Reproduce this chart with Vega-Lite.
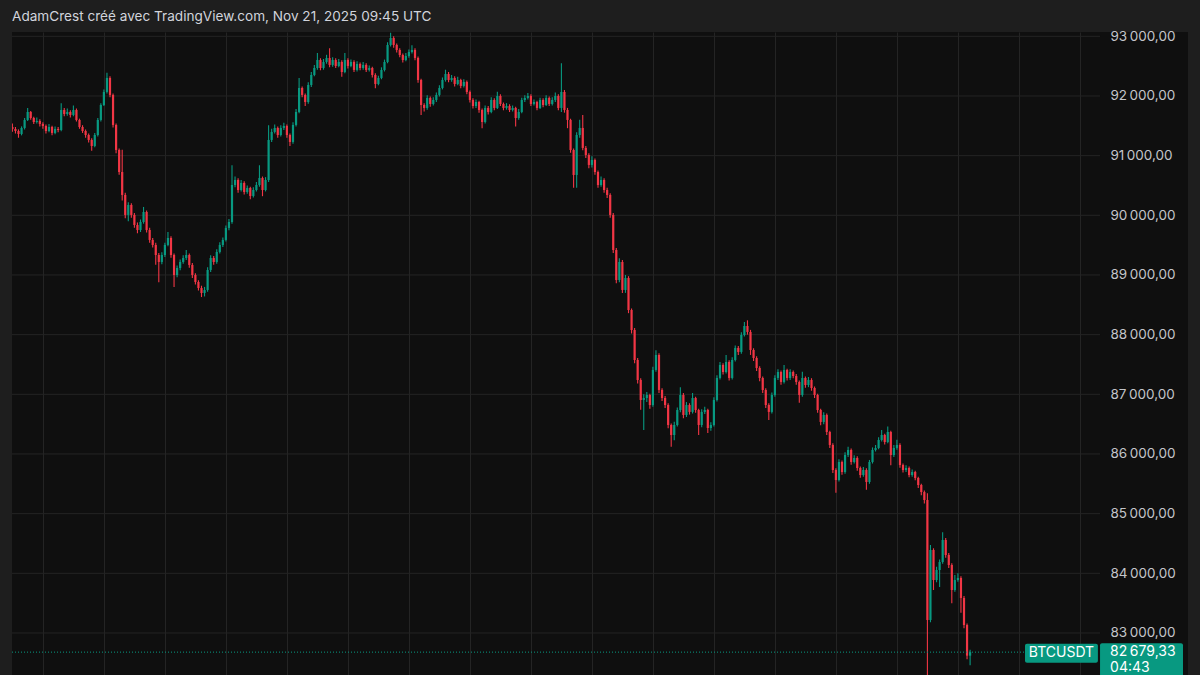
{
"$schema": "https://vega.github.io/schema/vega-lite/v6.json",
"width": 1176, "height": 643,
"autosize": {"type": "none"},
"padding": {"left": 12, "top": 32, "right": 12, "bottom": 0},
"background": "#1e1e1e",
"title": {"text": "AdamCrest créé avec TradingView.com, Nov 21, 2025 09:45 UTC", "anchor": "start", "frame": "group", "offset": 6, "font": "Inter", "fontSize": 13.6, "fontWeight": "normal", "color": "#d1d4dc"},
"config": {
  "view": {"fill": "#0f0f0f", "stroke": null},
  "scale": {"continuousPadding": 0},
  "locale": {"number": {"decimal": ",", "thousands": "\u202f", "grouping": [3], "currency": ["", ""]}},
  "axisX": {"grid": true, "gridColor": "#242424", "gridWidth": 1, "labels": false, "ticks": false, "domain": false, "title": null},
  "axisY": {"title": null, "grid": false, "ticks": false, "domain": false}
},
"datasets": {
"levels": [{"level":83000},{"level":84000},{"level":85000},{"level":86000},{"level":87000},{"level":88000},{"level":89000},{"level":90000},{"level":91000},{"level":92000},{"level":93000}],
"last": [{"sym":"BTCUSDT","price":82679.33,"timer":"04:43"}],
"candles": [
{"i":0,"o":91480,"h":91540,"l":91400,"c":91447},
{"i":1,"o":91447,"h":91480,"l":91370,"c":91413},
{"i":2,"o":91413,"h":91440,"l":91300,"c":91363},
{"i":3,"o":91363,"h":91490,"l":91340,"c":91464},
{"i":4,"o":91464,"h":91630,"l":91440,"c":91598},
{"i":5,"o":91598,"h":91800,"l":91580,"c":91732},
{"i":6,"o":91732,"h":91750,"l":91600,"c":91631},
{"i":7,"o":91631,"h":91650,"l":91530,"c":91564},
{"i":8,"o":91564,"h":91640,"l":91540,"c":91581},
{"i":9,"o":91581,"h":91610,"l":91490,"c":91531},
{"i":10,"o":91531,"h":91560,"l":91450,"c":91497},
{"i":11,"o":91497,"h":91520,"l":91370,"c":91413},
{"i":12,"o":91413,"h":91530,"l":91390,"c":91480},
{"i":13,"o":91480,"h":91500,"l":91340,"c":91380},
{"i":14,"o":91380,"h":91490,"l":91360,"c":91447},
{"i":15,"o":91447,"h":91480,"l":91390,"c":91430},
{"i":16,"o":91430,"h":91880,"l":91410,"c":91765},
{"i":17,"o":91765,"h":91800,"l":91660,"c":91698},
{"i":18,"o":91698,"h":91790,"l":91670,"c":91732},
{"i":19,"o":91732,"h":91760,"l":91640,"c":91682},
{"i":20,"o":91682,"h":91840,"l":91660,"c":91765},
{"i":21,"o":91765,"h":91790,"l":91570,"c":91598},
{"i":22,"o":91598,"h":91620,"l":91450,"c":91480},
{"i":23,"o":91480,"h":91510,"l":91380,"c":91413},
{"i":24,"o":91413,"h":91440,"l":91300,"c":91346},
{"i":25,"o":91346,"h":91370,"l":91220,"c":91263},
{"i":26,"o":91263,"h":91290,"l":91080,"c":91162},
{"i":27,"o":91162,"h":91380,"l":91140,"c":91346},
{"i":28,"o":91346,"h":91630,"l":91320,"c":91598},
{"i":29,"o":91598,"h":91880,"l":91570,"c":91849},
{"i":30,"o":91849,"h":92110,"l":91830,"c":92067},
{"i":31,"o":92067,"h":92390,"l":92040,"c":92302},
{"i":32,"o":92302,"h":92330,"l":91980,"c":92017},
{"i":33,"o":92017,"h":92040,"l":91470,"c":91514},
{"i":34,"o":91514,"h":91540,"l":91040,"c":91095},
{"i":35,"o":91095,"h":91120,"l":90680,"c":90726},
{"i":36,"o":90726,"h":91100,"l":90250,"c":90341},
{"i":37,"o":90341,"h":90380,"l":89950,"c":90006},
{"i":38,"o":90006,"h":90220,"l":89900,"c":90173},
{"i":39,"o":90173,"h":90200,"l":89960,"c":90006},
{"i":40,"o":90006,"h":90040,"l":89790,"c":89838},
{"i":41,"o":89838,"h":89880,"l":89700,"c":89754},
{"i":42,"o":89754,"h":89930,"l":89720,"c":89888},
{"i":43,"o":89888,"h":90140,"l":89860,"c":90056},
{"i":44,"o":90056,"h":90080,"l":89710,"c":89754},
{"i":45,"o":89754,"h":89790,"l":89540,"c":89587},
{"i":46,"o":89587,"h":89620,"l":89460,"c":89503},
{"i":47,"o":89503,"h":89540,"l":89170,"c":89335},
{"i":48,"o":89335,"h":89370,"l":88880,"c":89218},
{"i":49,"o":89218,"h":89380,"l":89180,"c":89335},
{"i":50,"o":89335,"h":89540,"l":89300,"c":89503},
{"i":51,"o":89503,"h":89720,"l":89480,"c":89620},
{"i":52,"o":89620,"h":89650,"l":89290,"c":89335},
{"i":53,"o":89335,"h":89360,"l":88800,"c":89000},
{"i":54,"o":89000,"h":89160,"l":88960,"c":89117},
{"i":55,"o":89117,"h":89260,"l":89080,"c":89218},
{"i":56,"o":89218,"h":89330,"l":89190,"c":89285},
{"i":57,"o":89285,"h":89420,"l":89250,"c":89335},
{"i":58,"o":89335,"h":89360,"l":89120,"c":89168},
{"i":59,"o":89168,"h":89200,"l":88950,"c":89000},
{"i":60,"o":89000,"h":89030,"l":88840,"c":88883},
{"i":61,"o":88883,"h":88910,"l":88740,"c":88782},
{"i":62,"o":88782,"h":88820,"l":88630,"c":88698},
{"i":63,"o":88698,"h":88800,"l":88640,"c":88749},
{"i":64,"o":88749,"h":89130,"l":88720,"c":89084},
{"i":65,"o":89084,"h":89330,"l":89050,"c":89285},
{"i":66,"o":89285,"h":89320,"l":89170,"c":89218},
{"i":67,"o":89218,"h":89430,"l":89190,"c":89386},
{"i":68,"o":89386,"h":89550,"l":89360,"c":89503},
{"i":69,"o":89503,"h":89630,"l":89470,"c":89587},
{"i":70,"o":89587,"h":89830,"l":89560,"c":89788},
{"i":71,"o":89788,"h":89940,"l":89750,"c":89888},
{"i":72,"o":89888,"h":90840,"l":89860,"c":90508},
{"i":73,"o":90508,"h":90650,"l":90470,"c":90592},
{"i":74,"o":90592,"h":90620,"l":90380,"c":90424},
{"i":75,"o":90424,"h":90590,"l":90400,"c":90542},
{"i":76,"o":90542,"h":90570,"l":90350,"c":90391},
{"i":77,"o":90391,"h":90500,"l":90360,"c":90458},
{"i":78,"o":90458,"h":90480,"l":90270,"c":90324},
{"i":79,"o":90324,"h":90470,"l":90300,"c":90424},
{"i":80,"o":90424,"h":90560,"l":90400,"c":90508},
{"i":81,"o":90508,"h":90840,"l":90480,"c":90626},
{"i":82,"o":90626,"h":90650,"l":90320,"c":90424},
{"i":83,"o":90424,"h":90640,"l":90400,"c":90592},
{"i":84,"o":90592,"h":91510,"l":90560,"c":91263},
{"i":85,"o":91263,"h":91450,"l":91230,"c":91397},
{"i":86,"o":91397,"h":91520,"l":91370,"c":91464},
{"i":87,"o":91464,"h":91490,"l":91300,"c":91346},
{"i":88,"o":91346,"h":91510,"l":91320,"c":91464},
{"i":89,"o":91464,"h":91550,"l":91430,"c":91497},
{"i":90,"o":91497,"h":91520,"l":91300,"c":91346},
{"i":91,"o":91346,"h":91370,"l":91160,"c":91229},
{"i":92,"o":91229,"h":91560,"l":91200,"c":91514},
{"i":93,"o":91514,"h":91780,"l":91490,"c":91732},
{"i":94,"o":91732,"h":92300,"l":91710,"c":92134},
{"i":95,"o":92134,"h":92160,"l":91980,"c":92017},
{"i":96,"o":92017,"h":92040,"l":91830,"c":91899},
{"i":97,"o":91899,"h":92230,"l":91870,"c":92184},
{"i":98,"o":92184,"h":92400,"l":92150,"c":92352},
{"i":99,"o":92352,"h":92520,"l":92330,"c":92469},
{"i":100,"o":92469,"h":92720,"l":92440,"c":92603},
{"i":101,"o":92603,"h":92630,"l":92430,"c":92469},
{"i":102,"o":92469,"h":92620,"l":92440,"c":92570},
{"i":103,"o":92570,"h":92690,"l":92540,"c":92637},
{"i":104,"o":92637,"h":92800,"l":92480,"c":92520},
{"i":105,"o":92520,"h":92650,"l":92490,"c":92603},
{"i":106,"o":92603,"h":92630,"l":92470,"c":92503},
{"i":107,"o":92503,"h":92620,"l":92480,"c":92570},
{"i":108,"o":92570,"h":92600,"l":92320,"c":92402},
{"i":109,"o":92402,"h":92720,"l":92380,"c":92603},
{"i":110,"o":92603,"h":92630,"l":92460,"c":92503},
{"i":111,"o":92503,"h":92610,"l":92480,"c":92570},
{"i":112,"o":92570,"h":92600,"l":92400,"c":92436},
{"i":113,"o":92436,"h":92580,"l":92410,"c":92536},
{"i":114,"o":92536,"h":92560,"l":92430,"c":92469},
{"i":115,"o":92469,"h":92570,"l":92440,"c":92520},
{"i":116,"o":92520,"h":92550,"l":92400,"c":92436},
{"i":117,"o":92436,"h":92510,"l":92410,"c":92469},
{"i":118,"o":92469,"h":92490,"l":92310,"c":92352},
{"i":119,"o":92352,"h":92380,"l":92130,"c":92201},
{"i":120,"o":92201,"h":92340,"l":92180,"c":92302},
{"i":121,"o":92302,"h":92480,"l":92280,"c":92436},
{"i":122,"o":92436,"h":92610,"l":92410,"c":92570},
{"i":123,"o":92570,"h":92900,"l":92550,"c":92855},
{"i":124,"o":92855,"h":93060,"l":92830,"c":92972},
{"i":125,"o":92972,"h":93000,"l":92810,"c":92855},
{"i":126,"o":92855,"h":92880,"l":92730,"c":92771},
{"i":127,"o":92771,"h":92800,"l":92650,"c":92687},
{"i":128,"o":92687,"h":92710,"l":92560,"c":92603},
{"i":129,"o":92603,"h":92720,"l":92580,"c":92670},
{"i":130,"o":92670,"h":92780,"l":92640,"c":92737},
{"i":131,"o":92737,"h":92850,"l":92710,"c":92771},
{"i":132,"o":92771,"h":92800,"l":92600,"c":92637},
{"i":133,"o":92637,"h":92660,"l":92220,"c":92268},
{"i":134,"o":92268,"h":92290,"l":91680,"c":91849},
{"i":135,"o":91849,"h":91880,"l":91740,"c":91799},
{"i":136,"o":91799,"h":92010,"l":91770,"c":91967},
{"i":137,"o":91967,"h":91990,"l":91820,"c":91866},
{"i":138,"o":91866,"h":91980,"l":91840,"c":91933},
{"i":139,"o":91933,"h":92060,"l":91900,"c":92017},
{"i":140,"o":92017,"h":92180,"l":91990,"c":92134},
{"i":141,"o":92134,"h":92310,"l":92110,"c":92268},
{"i":142,"o":92268,"h":92440,"l":92240,"c":92369},
{"i":143,"o":92369,"h":92400,"l":92230,"c":92268},
{"i":144,"o":92268,"h":92350,"l":92240,"c":92302},
{"i":145,"o":92302,"h":92330,"l":92160,"c":92201},
{"i":146,"o":92201,"h":92320,"l":92180,"c":92268},
{"i":147,"o":92268,"h":92290,"l":92130,"c":92168},
{"i":148,"o":92168,"h":92280,"l":92140,"c":92235},
{"i":149,"o":92235,"h":92260,"l":92030,"c":92067},
{"i":150,"o":92067,"h":92090,"l":91890,"c":91933},
{"i":151,"o":91933,"h":91960,"l":91790,"c":91832},
{"i":152,"o":91832,"h":91940,"l":91800,"c":91899},
{"i":153,"o":91899,"h":91920,"l":91720,"c":91765},
{"i":154,"o":91765,"h":91790,"l":91460,"c":91564},
{"i":155,"o":91564,"h":91840,"l":91540,"c":91799},
{"i":156,"o":91799,"h":91830,"l":91690,"c":91732},
{"i":157,"o":91732,"h":91980,"l":91710,"c":91933},
{"i":158,"o":91933,"h":91960,"l":91760,"c":91799},
{"i":159,"o":91799,"h":92070,"l":91780,"c":92000},
{"i":160,"o":92000,"h":92030,"l":91830,"c":91866},
{"i":161,"o":91866,"h":91890,"l":91760,"c":91799},
{"i":162,"o":91799,"h":91880,"l":91770,"c":91832},
{"i":163,"o":91832,"h":91860,"l":91730,"c":91765},
{"i":164,"o":91765,"h":91840,"l":91740,"c":91799},
{"i":165,"o":91799,"h":91820,"l":91490,"c":91631},
{"i":166,"o":91631,"h":91780,"l":91600,"c":91732},
{"i":167,"o":91732,"h":91970,"l":91710,"c":91933},
{"i":168,"o":91933,"h":92010,"l":91900,"c":91967},
{"i":169,"o":91967,"h":92050,"l":91940,"c":92000},
{"i":170,"o":92000,"h":92030,"l":91830,"c":91866},
{"i":171,"o":91866,"h":91940,"l":91840,"c":91899},
{"i":172,"o":91899,"h":91920,"l":91760,"c":91799},
{"i":173,"o":91799,"h":91970,"l":91780,"c":91933},
{"i":174,"o":91933,"h":91960,"l":91810,"c":91849},
{"i":175,"o":91849,"h":92010,"l":91830,"c":91967},
{"i":176,"o":91967,"h":91990,"l":91830,"c":91866},
{"i":177,"o":91866,"h":91980,"l":91840,"c":91933},
{"i":178,"o":91933,"h":92060,"l":91900,"c":92000},
{"i":179,"o":92000,"h":92030,"l":91760,"c":91799},
{"i":180,"o":91799,"h":92550,"l":91730,"c":92067},
{"i":181,"o":92067,"h":92100,"l":91720,"c":91765},
{"i":182,"o":91765,"h":91800,"l":91460,"c":91598},
{"i":183,"o":91598,"h":91620,"l":91050,"c":91095},
{"i":184,"o":91095,"h":91120,"l":90460,"c":90676},
{"i":185,"o":90676,"h":91390,"l":90460,"c":91346},
{"i":186,"o":91346,"h":91600,"l":91300,"c":91464},
{"i":187,"o":91464,"h":91680,"l":91090,"c":91129},
{"i":188,"o":91129,"h":91160,"l":90960,"c":91011},
{"i":189,"o":91011,"h":91040,"l":90790,"c":90844},
{"i":190,"o":90844,"h":90990,"l":90800,"c":90927},
{"i":191,"o":90927,"h":90950,"l":90680,"c":90726},
{"i":192,"o":90726,"h":90750,"l":90460,"c":90508},
{"i":193,"o":90508,"h":90650,"l":90480,"c":90592},
{"i":194,"o":90592,"h":90620,"l":90380,"c":90424},
{"i":195,"o":90424,"h":90460,"l":90290,"c":90341},
{"i":196,"o":90341,"h":90370,"l":89960,"c":90006},
{"i":197,"o":90006,"h":90040,"l":89370,"c":89419},
{"i":198,"o":89419,"h":89450,"l":88860,"c":88916},
{"i":199,"o":88916,"h":89280,"l":88880,"c":89218},
{"i":200,"o":89218,"h":89250,"l":88700,"c":88749},
{"i":201,"o":88749,"h":89000,"l":88700,"c":88950},
{"i":202,"o":88950,"h":88980,"l":88360,"c":88413},
{"i":203,"o":88413,"h":88440,"l":88020,"c":88078},
{"i":204,"o":88078,"h":88110,"l":87520,"c":87575},
{"i":205,"o":87575,"h":87610,"l":87180,"c":87240},
{"i":206,"o":87240,"h":87270,"l":86740,"c":86905},
{"i":207,"o":86905,"h":87000,"l":86400,"c":86938},
{"i":208,"o":86938,"h":87040,"l":86870,"c":86989},
{"i":209,"o":86989,"h":87010,"l":86760,"c":86821},
{"i":210,"o":86821,"h":87460,"l":86790,"c":87408},
{"i":211,"o":87408,"h":87740,"l":87380,"c":87659},
{"i":212,"o":87659,"h":87690,"l":87020,"c":87073},
{"i":213,"o":87073,"h":87100,"l":86890,"c":86938},
{"i":214,"o":86938,"h":86970,"l":86770,"c":86821},
{"i":215,"o":86821,"h":86850,"l":86430,"c":86486},
{"i":216,"o":86486,"h":86510,"l":86120,"c":86318},
{"i":217,"o":86318,"h":86540,"l":86230,"c":86486},
{"i":218,"o":86486,"h":86780,"l":86460,"c":86737},
{"i":219,"o":86737,"h":87120,"l":86700,"c":86989},
{"i":220,"o":86989,"h":87020,"l":86600,"c":86654},
{"i":221,"o":86654,"h":86870,"l":86620,"c":86821},
{"i":222,"o":86821,"h":86850,"l":86660,"c":86705},
{"i":223,"o":86705,"h":87020,"l":86680,"c":86938},
{"i":224,"o":86938,"h":86960,"l":86690,"c":86737},
{"i":225,"o":86737,"h":86760,"l":86320,"c":86486},
{"i":226,"o":86486,"h":86750,"l":86450,"c":86705},
{"i":227,"o":86705,"h":86790,"l":86670,"c":86737},
{"i":228,"o":86737,"h":86760,"l":86350,"c":86435},
{"i":229,"o":86435,"h":86530,"l":86390,"c":86486},
{"i":230,"o":86486,"h":86950,"l":86460,"c":86905},
{"i":231,"o":86905,"h":87320,"l":86880,"c":87274},
{"i":232,"o":87274,"h":87540,"l":87250,"c":87491},
{"i":233,"o":87491,"h":87520,"l":87330,"c":87374},
{"i":234,"o":87374,"h":87660,"l":87350,"c":87542},
{"i":235,"o":87542,"h":87570,"l":87230,"c":87274},
{"i":236,"o":87274,"h":87620,"l":87250,"c":87575},
{"i":237,"o":87575,"h":87820,"l":87550,"c":87777},
{"i":238,"o":87777,"h":87810,"l":87660,"c":87710},
{"i":239,"o":87710,"h":88040,"l":87680,"c":87994},
{"i":240,"o":87994,"h":88210,"l":87970,"c":88145},
{"i":241,"o":88145,"h":88240,"l":88000,"c":88045},
{"i":242,"o":88045,"h":88080,"l":87660,"c":87743},
{"i":243,"o":87743,"h":87770,"l":87560,"c":87609},
{"i":244,"o":87609,"h":87640,"l":87390,"c":87441},
{"i":245,"o":87441,"h":87470,"l":87220,"c":87274},
{"i":246,"o":87274,"h":87300,"l":87020,"c":87073},
{"i":247,"o":87073,"h":87100,"l":86770,"c":86821},
{"i":248,"o":86821,"h":86850,"l":86570,"c":86705},
{"i":249,"o":86705,"h":87030,"l":86680,"c":86989},
{"i":250,"o":86989,"h":87320,"l":86960,"c":87274},
{"i":251,"o":87274,"h":87420,"l":87240,"c":87374},
{"i":252,"o":87374,"h":87400,"l":87160,"c":87207},
{"i":253,"o":87207,"h":87490,"l":87180,"c":87408},
{"i":254,"o":87408,"h":87430,"l":87230,"c":87274},
{"i":255,"o":87274,"h":87420,"l":87240,"c":87374},
{"i":256,"o":87374,"h":87400,"l":87270,"c":87307},
{"i":257,"o":87307,"h":87340,"l":87160,"c":87207},
{"i":258,"o":87207,"h":87230,"l":86860,"c":86989},
{"i":259,"o":86989,"h":87380,"l":86960,"c":87274},
{"i":260,"o":87274,"h":87300,"l":87110,"c":87156},
{"i":261,"o":87156,"h":87290,"l":87120,"c":87240},
{"i":262,"o":87240,"h":87270,"l":87060,"c":87106},
{"i":263,"o":87106,"h":87130,"l":86940,"c":86989},
{"i":264,"o":86989,"h":87010,"l":86690,"c":86737},
{"i":265,"o":86737,"h":86760,"l":86480,"c":86537},
{"i":266,"o":86537,"h":86700,"l":86500,"c":86654},
{"i":267,"o":86654,"h":86680,"l":86320,"c":86369},
{"i":268,"o":86369,"h":86390,"l":86100,"c":86151},
{"i":269,"o":86151,"h":86180,"l":85680,"c":85732},
{"i":270,"o":85732,"h":85760,"l":85350,"c":85564},
{"i":271,"o":85564,"h":85910,"l":85540,"c":85866},
{"i":272,"o":85866,"h":85890,"l":85650,"c":85698},
{"i":273,"o":85698,"h":86030,"l":85670,"c":85983},
{"i":274,"o":85983,"h":86120,"l":85950,"c":86067},
{"i":275,"o":86067,"h":86090,"l":85820,"c":85866},
{"i":276,"o":85866,"h":85980,"l":85840,"c":85933},
{"i":277,"o":85933,"h":85960,"l":85720,"c":85765},
{"i":278,"o":85765,"h":85790,"l":85600,"c":85648},
{"i":279,"o":85648,"h":85780,"l":85620,"c":85732},
{"i":280,"o":85732,"h":85760,"l":85400,"c":85531},
{"i":281,"o":85531,"h":85900,"l":85500,"c":85866},
{"i":282,"o":85866,"h":86110,"l":85840,"c":86067},
{"i":283,"o":86067,"h":86150,"l":86040,"c":86101},
{"i":284,"o":86101,"h":86280,"l":86080,"c":86235},
{"i":285,"o":86235,"h":86400,"l":86210,"c":86318},
{"i":286,"o":86318,"h":86340,"l":86160,"c":86201},
{"i":287,"o":86201,"h":86460,"l":86180,"c":86369},
{"i":288,"o":86369,"h":86390,"l":85810,"c":85983},
{"i":289,"o":85983,"h":86150,"l":85950,"c":86101},
{"i":290,"o":86101,"h":86240,"l":86070,"c":86151},
{"i":291,"o":86151,"h":86180,"l":85770,"c":85815},
{"i":292,"o":85815,"h":85840,"l":85690,"c":85732},
{"i":293,"o":85732,"h":85810,"l":85700,"c":85765},
{"i":294,"o":85765,"h":85790,"l":85610,"c":85648},
{"i":295,"o":85648,"h":85740,"l":85620,"c":85698},
{"i":296,"o":85698,"h":85720,"l":85560,"c":85598},
{"i":297,"o":85598,"h":85620,"l":85430,"c":85480},
{"i":298,"o":85480,"h":85500,"l":85310,"c":85362},
{"i":299,"o":85362,"h":85390,"l":85170,"c":85229},
{"i":300,"o":85229,"h":85340,"l":81600,"c":83218},
{"i":301,"o":83218,"h":84475,"l":83180,"c":84391},
{"i":302,"o":84391,"h":84420,"l":83720,"c":83888},
{"i":303,"o":83888,"h":84110,"l":83850,"c":84056},
{"i":304,"o":84056,"h":84230,"l":83770,"c":84190},
{"i":305,"o":84190,"h":84690,"l":84160,"c":84559},
{"i":306,"o":84559,"h":84590,"l":84260,"c":84307},
{"i":307,"o":84307,"h":84340,"l":84090,"c":84140},
{"i":308,"o":84140,"h":84170,"l":83500,"c":83720},
{"i":309,"o":83720,"h":83970,"l":83690,"c":83888},
{"i":310,"o":83888,"h":84000,"l":83860,"c":83922},
{"i":311,"o":83922,"h":83950,"l":83340,"c":83587},
{"i":312,"o":83587,"h":83620,"l":83080,"c":83134},
{"i":313,"o":83134,"h":83160,"l":82560,"c":82620},
{"i":314,"o":82620,"h":82720,"l":82460,"c":82679.33}
]
},
"layer": [
  {
    "data": {"name": "levels"},
    "mark": {"type": "rule", "color": "#242424", "strokeWidth": 1},
    "encoding": {
      "y": {"field": "level", "type": "quantitative", "scale": {"domain": [82296, 93072], "nice": false, "zero": false, "padding": 0},
            "axis": {"orient": "right", "offset": -88, "values": [83000,84000,85000,86000,87000,88000,89000,90000,91000,92000,93000], "format": ",.2f", "grid": false, "ticks": false, "domain": false, "labelAlign": "left", "labelBaseline": "middle", "labelPadding": 10, "labelColor": "#c3c5ca", "labelFont": "Inter", "labelFontSize": 13.5, "title": null}},
      "x": {"datum": -0.13, "type": "quantitative", "scale": {"domain": [-0.13, 385.44], "nice": false, "zero": false, "padding": 0},
            "axis": {"values": [10,30,50,70,90,110,130,150,170,190,210,230,250,270,290,310,330,350], "grid": true, "labels": false, "ticks": false, "domain": false, "title": null}},
      "x2": {"datum": 356.6}
    }
  },
  {
    "data": {"name": "candles"},
    "mark": {"type": "rule", "strokeWidth": 1.1, "clip": true},
    "encoding": {
      "x": {"field": "i", "type": "quantitative"},
      "y": {"field": "l", "type": "quantitative"},
      "y2": {"field": "h"},
      "color": {"condition": {"test": "datum.c >= datum.o", "value": "#089981"}, "value": "#f23645"}
    }
  },
  {
    "data": {"name": "candles"},
    "mark": {"type": "bar", "size": 2.2, "clip": true},
    "encoding": {
      "x": {"field": "i", "type": "quantitative"},
      "y": {"field": "o", "type": "quantitative"},
      "y2": {"field": "c"},
      "color": {"condition": {"test": "datum.c >= datum.o", "value": "#089981"}, "value": "#f23645"}
    }
  },
  {
    "data": {"name": "last"},
    "mark": {"type": "rule", "color": "#089981", "strokeWidth": 1, "strokeDash": [1, 2]},
    "encoding": {
      "y": {"field": "price", "type": "quantitative"},
      "x": {"datum": -0.13, "type": "quantitative"},
      "x2": {"datum": 332.0}
    }
  },
  {
    "data": {"name": "last"},
    "mark": {"type": "bar", "color": "#089981", "size": 19, "cornerRadius": 2, "yOffset": 1},
    "encoding": {
      "y": {"field": "price", "type": "quantitative"},
      "x": {"datum": 332.0, "type": "quantitative"},
      "x2": {"datum": 355.9}
    }
  },
  {
    "data": {"name": "last"},
    "mark": {"type": "bar", "color": "#089981", "size": 50, "cornerRadius": 2, "yOffset": 16},
    "encoding": {
      "y": {"field": "price", "type": "quantitative"},
      "x": {"datum": 356.6, "type": "quantitative"},
      "x2": {"datum": 383.8}
    }
  },
  {
    "data": {"name": "last"},
    "mark": {"type": "text", "color": "#ffffff", "font": "Inter", "fontSize": 14, "align": "center", "baseline": "middle", "dy": 1},
    "encoding": {
      "y": {"field": "price", "type": "quantitative"},
      "x": {"datum": 343.95, "type": "quantitative"},
      "text": {"field": "sym"}
    }
  },
  {
    "data": {"name": "last"},
    "mark": {"type": "text", "color": "#ffffff", "font": "Inter", "fontSize": 14, "align": "left", "baseline": "middle", "dy": 0},
    "encoding": {
      "y": {"field": "price", "type": "quantitative"},
      "x": {"datum": 359.9, "type": "quantitative"},
      "text": {"field": "price", "format": ",.2f"}
    }
  },
  {
    "data": {"name": "last"},
    "mark": {"type": "text", "color": "#ffffff", "font": "Inter", "fontSize": 14, "align": "left", "baseline": "middle", "dy": 16},
    "encoding": {
      "y": {"field": "price", "type": "quantitative"},
      "x": {"datum": 359.9, "type": "quantitative"},
      "text": {"field": "timer"}
    }
  }
]
}
